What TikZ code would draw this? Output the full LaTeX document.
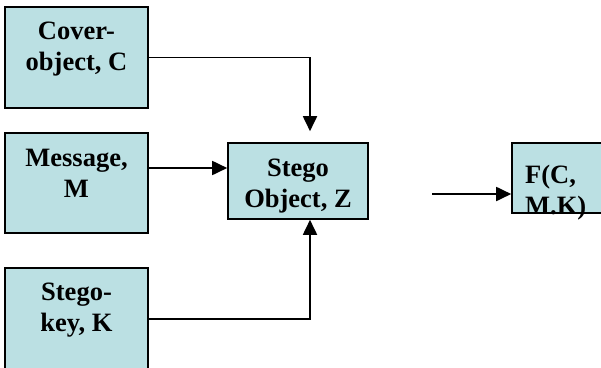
\documentclass[tikz,border=0pt]{standalone}
\usepackage{fontspec}
\setmainfont{Liberation Serif}
\usetikzlibrary{arrows.meta,calc}
\definecolor{boxfill}{RGB}{187,224,227}
\begin{document}
\begin{tikzpicture}[x=1pt,y=-1pt,
  box/.style={draw=black,fill=boxfill,line width=1.6pt,inner sep=0pt},
  txt/.style={font=\bfseries\fontsize{26.5}{31}\selectfont,align=center,inner sep=0pt},
  arr/.style={line width=1.8pt,-{Triangle[length=15pt,width=14pt]}}]
\useasboundingbox (0,0) rectangle (601,367);
% boxes
\node[box,minimum width=143pt,minimum height=101pt] (cover) at (76.5,57.5) {};
\node[box,minimum width=143pt,minimum height=100pt] (message) at (76.5,183) {};
\node[box,minimum width=143pt,minimum height=102pt] (key) at (76.5,319) {};
\node[box,minimum width=140pt,minimum height=76pt] (stego) at (298,181) {};
\node[box,minimum width=108pt,minimum height=70pt] (F) at (566,178) {};
% texts (anchor base = baseline of last line)
\node[txt,anchor=base] (tcover) at (76.5,70) {Cover-\\object, C};
\node[txt,anchor=base] (tmessage) at (76.5,197) {Message,\\M};
\node[txt,anchor=base] (tkey) at (76.5,331) {Stego-\\key, K};
\node[txt,anchor=base] (tstego) at (298,207) {Stego\\Object, Z};
\node[txt,anchor=base west,align=left] (tF) at (525,214) {F(C,\\M.K)};
% connectors
\coordinate (fstart) at (432,194);
\draw[arr,shorten >=11pt] (cover.east) -| ([xshift=12pt]stego.north);
\draw[arr] ([yshift=15pt]message.east) -- ([yshift=15pt]message.east -| stego.west);
\draw[arr] (key.east) -| ([xshift=12pt]stego.south);
\draw[arr] (fstart) -- (fstart -| F.west);
\end{tikzpicture}
\end{document}
